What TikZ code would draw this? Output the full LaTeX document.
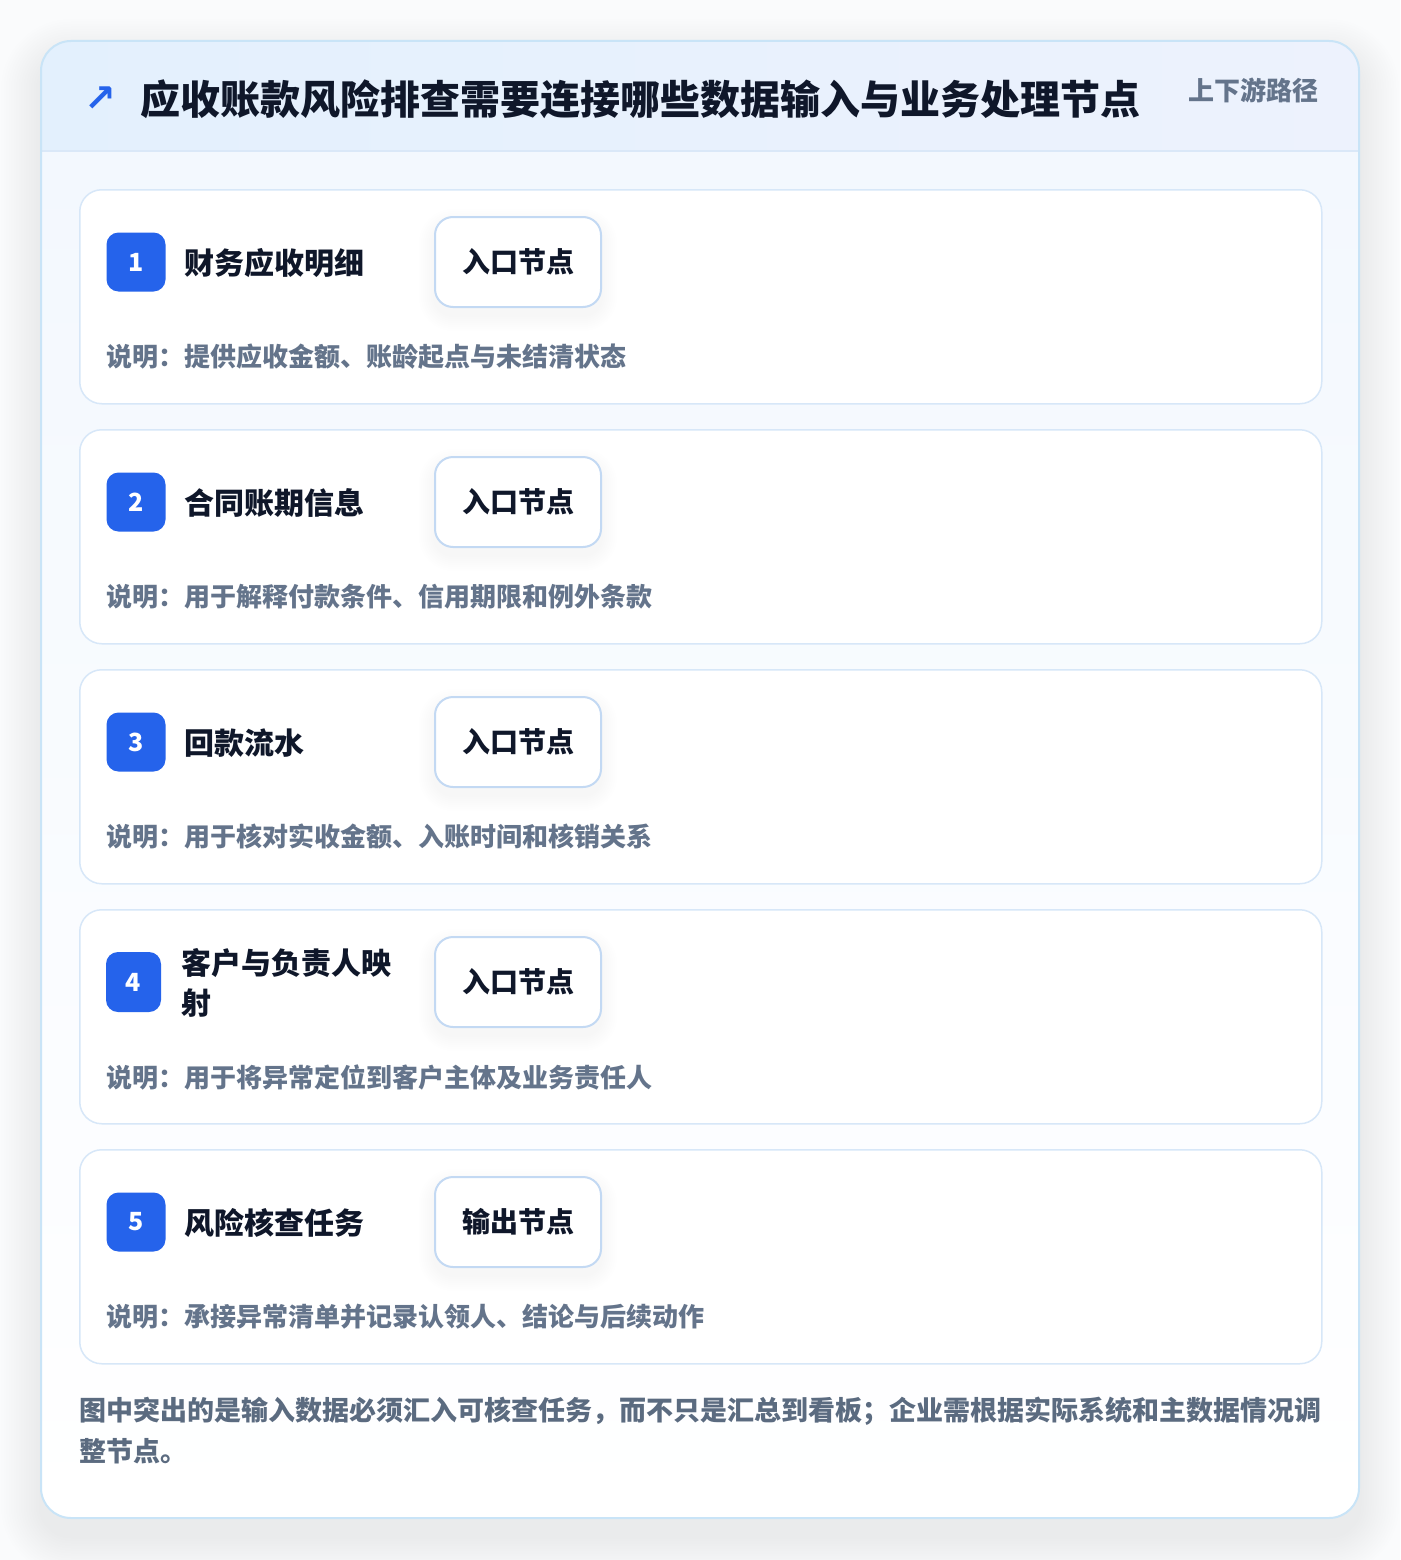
\documentclass[tikz,border=0pt]{standalone}
\usepackage{fontspec}
\setmainfont{Noto Sans CJK SC}
\newfontfamily\symfont{DejaVu Sans}
\definecolor{pagebg}{HTML}{FAFBFC}
\definecolor{cardbg}{HTML}{F3F8FE}
\definecolor{cardline}{HTML}{C9E4F7}
\definecolor{headA}{HTML}{E3F0FD}
\definecolor{headB}{HTML}{EDF2FD}
\definecolor{headline}{HTML}{DAE8F8}
\definecolor{itemline}{HTML}{D7E7F8}
\definecolor{tagline}{HTML}{C3D9F3}
\definecolor{badgeblue}{HTML}{2563EB}
\definecolor{titleink}{HTML}{0F172A}
\definecolor{mutedink}{HTML}{64748B}
\definecolor{footink}{HTML}{5B6B80}
\newcommand{\softshadow}[9]{% x1 y1 x2 y2 radius yshift steps opacity stepsize
  \foreach \j in {1,...,#7}{
    \pgfmathsetmacro{\k}{\j*#9}
    \pgfmathsetmacro{\rr}{#5+\k}
    \fill[black, opacity=#8, rounded corners=\rr pt] (#1-\k,#2+#6-\k) rectangle (#3+\k,#4+#6+\k);
  }}
\tikzset{
  itemcard/.style={draw=itemline, line width=1.5pt, fill=white, rounded corners=22pt, minimum width=1242pt, minimum height=214pt, anchor=north west, inner sep=0pt},
  badge/.style={fill=badgeblue, rounded corners=12pt, minimum width=59pt, minimum height=59pt, inner sep=0pt, text=white, font=\fontsize{25}{26}\selectfont\bfseries},
  itemtitle/.style={anchor=west, inner sep=0pt, text=titleink, font=\fontsize{30}{40}\selectfont\bfseries, align=left},
  tagbox/.style={draw=tagline, line width=2pt, fill=white, rounded corners=18pt, minimum width=166pt, minimum height=90pt, inner sep=0pt, text=titleink, font=\fontsize{28}{30}\selectfont\bfseries},
  desc/.style={anchor=west, inner sep=0pt, text=mutedink, font=\fontsize{26}{28}\selectfont\bfseries},
}
\begin{document}
\begin{tikzpicture}[x=1pt,y=-1pt]
\useasboundingbox (0,0) rectangle (1400,1560);
\fill[pagebg] (0,0) rectangle (1400,1560);
% outer card shadow
\softshadow{41}{41}{1359}{1518}{30}{18}{16}{0.0045}{2.5}
% outer card
\node[fill=cardbg, rounded corners=30pt, minimum width=1318pt, minimum height=1477pt, anchor=north west, inner sep=0pt] (outer) at (41,41) {};
% header band
\begin{scope}
\clip[rounded corners=30pt] (41,41) rectangle (1359,1518);
\shade[left color=headA, right color=headB] (41,41) rectangle (1359,151);
\shade[top color=cardbg, bottom color=white] (41,151) rectangle (1359,1518);
\end{scope}
\draw[headline, line width=1.5pt] (42,151) -- (1358,151);
\draw[cardline, line width=2pt, rounded corners=30pt] (41,41) rectangle (1359,1518);
\node[anchor=west, inner sep=0pt, text=badgeblue, font=\symfont\bfseries\fontsize{38}{40}\selectfont] (arrow) at (84,99) {↗};
\node[anchor=west, inner sep=0pt, text=titleink, font=\fontsize{40}{44}\selectfont\bfseries] (title) at (140,99) {应收账款风险排查需要连接哪些数据输入与业务处理节点};
\node[anchor=west, inner sep=0pt, text=mutedink, font=\fontsize{26}{28}\selectfont\bfseries] (subtitle) at (1188,90) {上下游路径};
% items
\foreach \i/\t/\tag/\d in {
  1/财务应收明细/入口节点/说明：提供应收金额、账龄起点与未结清状态,
  2/合同账期信息/入口节点/说明：用于解释付款条件、信用期限和例外条款,
  3/回款流水/入口节点/说明：用于核对实收金额、入账时间和核销关系,
  5/风险核查任务/输出节点/说明：承接异常清单并记录认领人、结论与后续动作}{
  \pgfmathsetmacro{\yy}{189+240*(\i-1)}
  \node[itemcard] (card\i) at (79,\yy) {};
  \node[badge] (badge\i) at (136,\yy+73) {\i};
  \node[itemtitle] (name\i) at (184,\yy+74) {\t};
  \softshadow{435}{\yy+28}{601}{\yy+118}{18}{8}{8}{0.0045}{2}
  \node[tagbox] (tag\i) at (518,\yy+73) {\tag};
  \node[desc] (desc\i) at (106,\yy+168) {\d};
}
% item 4 (two-line title)
\node[itemcard] (card4) at (79,909) {};
\node[badge, minimum width=55pt, minimum height=60pt] (badge4) at (133.5,982) {4};
\node[itemtitle] (name4) at (181,983) {客户与负责人映\\射};
\softshadow{435}{937}{601}{1027}{18}{8}{8}{0.0045}{2}
\node[tagbox] (tag4) at (518,982) {入口节点};
\node[desc] (desc4) at (106,1077) {说明：用于将异常定位到客户主体及业务责任人};
% footer
\node[anchor=north west, inner sep=0pt, text=footink, font=\fontsize{27}{41}\selectfont\bfseries, align=left] (footer) at (79,1397) {图中突出的是输入数据必须汇入可核查任务，而不只是汇总到看板；企业需根据实际系统和主数据情况调\\整节点。};
\end{tikzpicture}
\end{document}
